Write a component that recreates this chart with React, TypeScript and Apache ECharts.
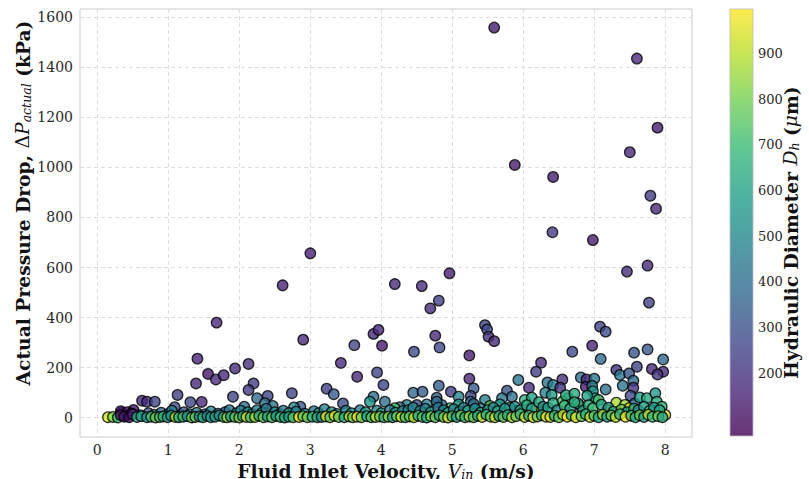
import React, { useEffect, useRef } from "react";
import * as echarts from "echarts";

// Tick values
const velocityTicks = [0, 1, 2, 3, 4, 5, 6, 7, 8];
const pressureTicks = [0, 200, 400, 600, 800, 1000, 1200, 1400, 1600];
const diameterTicks = [200, 300, 400, 500, 600, 700, 800, 900];
const diameterRange = [62, 998];

const viridis = ["#440154", "#482878", "#3e4989", "#31688e", "#26828e", "#1f9e89", "#35b779", "#6ece58", "#b5de2b", "#fde725"];

// [V_in (m/s), ΔP (kPa), D_h (μm)]
const highDropPoints: number[][] = [
  [3.0, 657, 150], [2.61, 529, 160], [1.68, 380, 170], [2.9, 312, 175], [1.41, 236, 160],
  [1.56, 175, 120], [1.67, 153, 180], [1.78, 170, 170], [1.94, 197, 180], [2.13, 215, 190],
  [1.39, 137, 170], [2.2, 137, 230], [2.13, 111, 220], [1.13, 91, 240], [0.63, 68, 170],
  [0.7, 64, 180], [0.81, 64, 250], [1.31, 62, 260], [1.47, 63, 170], [1.91, 84, 260],
  [2.4, 87, 250], [2.74, 98, 260], [2.25, 78, 380], [2.36, 58, 400], [2.47, 47, 420],
  [2.07, 44, 400], [3.23, 116, 240], [3.33, 94, 330], [3.43, 219, 180], [3.62, 290, 250],
  [3.66, 164, 170], [3.89, 335, 180], [3.96, 351, 170], [4.01, 288, 140], [3.94, 181, 260],
  [4.03, 131, 260], [3.89, 84, 400], [3.84, 64, 540], [3.46, 57, 290], [2.86, 44, 320],
  [2.77, 41, 500], [1.09, 42, 290], [0.51, 31, 110], [0.34, 20, 100], [0.4, 7, 90],
  [5.59, 1559, 140], [7.6, 1435, 170], [7.89, 1159, 140], [7.5, 1061, 170], [5.88, 1010, 130],
  [6.42, 962, 140], [7.79, 887, 220], [7.87, 835, 170], [6.41, 741, 230], [6.98, 710, 130],
  [4.96, 577, 150], [4.19, 534, 170], [4.57, 526, 180], [4.81, 468, 240], [4.69, 437, 180],
  [7.75, 608, 170], [7.46, 584, 180], [7.77, 460, 240], [4.76, 328, 170], [4.82, 281, 270],
  [4.46, 264, 280], [5.46, 370, 260], [5.49, 353, 280], [5.51, 324, 200], [5.59, 306, 170],
  [5.24, 249, 140], [5.24, 156, 170], [5.3, 117, 320], [5.26, 87, 260], [5.26, 64, 400],
  [4.45, 100, 370], [4.58, 104, 340], [4.81, 128, 330], [4.78, 80, 340], [4.98, 104, 230],
  [5.09, 84, 480], [6.69, 264, 280], [6.97, 288, 160], [7.08, 364, 260], [7.16, 344, 280],
  [7.09, 235, 380], [6.25, 220, 180], [6.18, 184, 240], [5.93, 151, 420], [6.08, 120, 180],
  [6.55, 153, 190], [6.34, 141, 400], [6.42, 131, 470], [6.52, 120, 200], [6.81, 161, 400],
  [6.89, 153, 170], [7.0, 156, 420], [6.88, 124, 130], [6.97, 127, 440], [6.98, 106, 540],
  [7.01, 78, 580], [7.16, 113, 410], [7.56, 260, 310], [7.75, 273, 330], [7.97, 233, 370],
  [7.6, 204, 250], [7.81, 195, 170], [7.97, 184, 180], [7.89, 173, 210], [7.31, 191, 190],
  [7.36, 171, 420], [7.49, 177, 300], [7.55, 148, 380], [7.4, 128, 420], [7.55, 120, 200],
  [7.51, 88, 280], [7.57, 57, 370], [7.64, 81, 580], [7.74, 78, 620], [7.86, 98, 560],
  [7.88, 64, 650], [7.95, 44, 680], [8.0, 11, 950], [7.31, 60, 880], [7.43, 51, 860],
  [7.49, 38, 920], [7.18, 31, 960], [7.06, 71, 720], [6.8, 47, 880], [6.63, 78, 680],
  [6.55, 64, 740], [6.77, 57, 560], [6.31, 100, 470], [6.4, 91, 560], [6.02, 71, 660],
  [5.93, 28, 780], [6.19, 38, 960], [6.33, 24, 880], [5.77, 108, 300], [5.84, 84, 400],
  [5.7, 78, 420], [5.67, 53, 560], [5.81, 41, 480], [5.46, 71, 470], [5.53, 47, 760],
  [5.39, 38, 450], [5.3, 55, 390], [5.09, 53, 560], [4.97, 38, 740], [4.85, 51, 400],
  [4.78, 64, 380], [4.64, 53, 470], [4.5, 51, 290], [4.36, 51, 480], [4.26, 42, 400],
  [4.19, 38, 720], [4.05, 64, 400], [4.4, 11, 960], [6.12, 80, 600], [6.6, 90, 650],
  [6.72, 96, 620], [6.9, 88, 600],
];

// upper layer of the dense low-pressure band
const upperBand: number[][] = [
  [0.33, 26, 140], [0.42, 22, 120], [0.48, 17, 160], [0.6, 10, 400], [0.72, 18, 330], [0.8, 12, 430],
  [0.9, 20, 360], [1.0, 15, 420], [1.05, 28, 450], [1.18, 10, 380], [1.22, 22, 330], [1.3, 14, 410],
  [1.4, 20, 430], [1.52, 14, 330], [1.6, 25, 480], [1.7, 16, 400], [1.8, 22, 300], [1.86, 30, 420],
  [1.96, 18, 510], [2.02, 28, 480], [2.12, 22, 520], [2.18, 14, 600],
  [2.25, 30, 470], [2.32, 20, 560], [2.38, 36, 420], [2.5, 22, 510], [2.57, 14, 600], [2.62, 28, 450],
  [2.7, 18, 560], [2.8, 24, 500], [2.92, 16, 520], [3.05, 26, 430], [3.12, 18, 550], [3.2, 34, 480],
  [3.3, 22, 560], [3.38, 15, 600], [3.5, 28, 470], [3.58, 18, 540], [3.7, 30, 450], [3.78, 22, 560],
  [3.94, 28, 500], [4.0, 18, 600], [4.12, 30, 450], [4.2, 20, 560], [4.3, 26, 520],
  [4.38, 30, 450], [4.45, 40, 500], [4.55, 28, 520], [4.62, 36, 440], [4.7, 22, 580], [4.8, 40, 420],
  [4.88, 30, 520], [4.94, 20, 620], [5.02, 34, 500], [5.1, 24, 580], [5.16, 40, 460], [5.22, 28, 600],
  [5.32, 36, 520], [5.4, 20, 640], [5.5, 30, 560], [5.58, 40, 480], [5.64, 26, 620], [5.74, 36, 560],
  [5.88, 44, 520], [5.96, 30, 600], [6.05, 50, 640], [6.12, 36, 560], [6.22, 62, 620], [6.28, 44, 520],
  [6.35, 40, 560], [6.42, 58, 640], [6.48, 30, 520], [6.58, 48, 700], [6.66, 36, 600], [6.72, 62, 660],
  [6.84, 28, 560], [6.92, 50, 640], [6.98, 38, 700], [7.1, 52, 620], [7.2, 40, 560], [7.27, 24, 680],
  [7.38, 32, 800], [7.46, 22, 560], [7.56, 36, 640], [7.62, 30, 520], [7.7, 44, 600], [7.78, 28, 700],
  [7.84, 40, 560], [7.92, 30, 620],
];

// base layer of the dense band, close to zero
const baseBand: number[][] = [
  [0.15, 2, 930], [0.22, 3, 820], [0.29, 1, 700], [0.33, 10, 110], [0.38, 4, 120], [0.45, 2, 90],
  [0.5, 14, 150], [0.56, 3, 640], [0.62, 6, 600], [0.7, 2, 520], [0.76, 4, 720], [0.82, 1, 780],
  [0.88, 3, 740], [0.93, 5, 660], [0.99, 2, 600], [1.04, 8, 540], [1.1, 3, 900], [1.15, 2, 640],
  [1.21, 4, 700], [1.27, 6, 560], [1.33, 1, 800], [1.38, 3, 760], [1.44, 5, 520], [1.49, 2, 660],
  [1.55, 7, 500], [1.6, 2, 600], [1.66, 4, 560], [1.72, 9, 520], [1.78, 3, 700], [1.83, 2, 860],
  [1.88, 5, 600], [1.94, 3, 760], [2.0, 1, 800], [2.05, 6, 640], [2.1, 3, 920], [2.16, 2, 720],
  [2.22, 3, 860], [2.28, 8, 660], [2.34, 2, 780], [2.4, 5, 620], [2.46, 2, 760], [2.52, 7, 580],
  [2.58, 3, 700], [2.64, 1, 640], [2.7, 4, 600], [2.76, 2, 740], [2.84, 3, 980], [2.9, 6, 780],
  [2.96, 2, 800], [3.03, 4, 680], [3.1, 2, 620], [3.16, 3, 560], [3.22, 5, 960], [3.28, 2, 760],
  [3.34, 8, 940], [3.4, 3, 780], [3.48, 2, 640], [3.55, 5, 900], [3.6, 2, 800], [3.66, 4, 980],
  [3.72, 2, 780], [3.8, 6, 640], [3.86, 2, 740], [3.92, 3, 900], [3.98, 5, 800], [4.04, 2, 680],
  [4.1, 4, 840], [4.16, 2, 600], [4.22, 6, 780], [4.28, 3, 900], [4.34, 2, 740],
  [4.4, 5, 780], [4.46, 2, 900], [4.52, 8, 680], [4.58, 3, 740], [4.64, 1, 620], [4.7, 6, 820],
  [4.76, 2, 760], [4.82, 9, 640], [4.88, 3, 800], [4.94, 1, 920], [5.0, 6, 720], [5.06, 3, 600],
  [5.12, 9, 780], [5.18, 2, 680], [5.24, 5, 860], [5.3, 2, 740], [5.36, 8, 640], [5.42, 3, 920],
  [5.48, 12, 680], [5.54, 4, 780], [5.6, 2, 900], [5.66, 7, 620], [5.72, 3, 760], [5.78, 10, 660],
  [5.84, 2, 880], [5.9, 6, 780], [5.96, 14, 700], [6.02, 3, 920], [6.08, 8, 660], [6.14, 2, 950],
  [6.2, 5, 780], [6.26, 10, 680], [6.32, 4, 980],
  [6.38, 3, 920], [6.44, 8, 660], [6.5, 2, 780], [6.56, 12, 900], [6.62, 4, 980], [6.68, 10, 640],
  [6.74, 2, 950], [6.82, 6, 780], [6.88, 14, 680], [6.94, 3, 920], [7.0, 8, 740], [7.06, 2, 640],
  [7.12, 12, 840], [7.18, 4, 600], [7.24, 9, 780], [7.3, 3, 900], [7.36, 14, 660], [7.44, 4, 980],
  [7.52, 8, 740], [7.58, 2, 640], [7.64, 10, 780], [7.7, 3, 600], [7.76, 12, 900], [7.82, 4, 680],
  [7.9, 6, 800], [7.96, 2, 620],
];

const SERIF = "'DejaVu Serif', serif";
const TEXT = "#262626";
const TITLE = 18.7;

export default function App() {
  const ref = useRef<HTMLDivElement>(null);
  useEffect(() => {
    if (!ref.current) return;
    const chart = echarts.init(ref.current, undefined, { renderer: "svg" });
    const data = [...highDropPoints, ...upperBand, ...baseBand];
    const titleRich = {
      b: { fontFamily: SERIF, fontWeight: "bold", fontSize: TITLE, color: "#111" },
      n: { fontFamily: SERIF, fontSize: TITLE, color: "#111" },
      i: { fontFamily: SERIF, fontStyle: "italic", fontSize: TITLE, color: "#111" },
      sub: { fontFamily: SERIF, fontStyle: "italic", fontSize: 12.5, color: "#111", padding: [8, 0, 0, 0] },
    };
    const xTitleRich = { ...titleRich, sub: { ...titleRich.sub, padding: [6, 0, 0, 0] } };
    const splitStyle = { show: true, lineStyle: { color: "#dddddd", width: 1, type: [4, 3] as any } };
    const plain = (v: number) => String(v);
    chart.setOption({
      animation: false,
      grid: [
        { left: 80, top: 9, width: 612, height: 428, show: true, borderColor: "#cccccc", borderWidth: 1, backgroundColor: "transparent", outerBoundsMode: "none", containLabel: false },
        { left: 730, top: 9, width: 23, height: 427, show: false, outerBoundsMode: "none", containLabel: false },
      ],
      xAxis: [
        {
          type: "value", gridIndex: 0, min: -0.244, max: 8.376,
          axisLine: { show: false }, axisTick: { show: false, customValues: velocityTicks },
          axisLabel: { customValues: velocityTicks, formatter: plain, fontFamily: SERIF, fontSize: 14, color: TEXT, margin: 6 },
          splitLine: splitStyle,
          name: "{b|Fluid Inlet Velocity, }{i|V}{sub|in}{b| (m/s)}",
          nameLocation: "middle", nameGap: 18,
          nameTextStyle: { rich: xTitleRich },
        },
        { type: "value", gridIndex: 1, show: false, min: 0, max: 1 },
      ],
      yAxis: [
        {
          type: "value", gridIndex: 0, min: -77, max: 1633,
          axisLine: { show: false }, axisTick: { show: false, customValues: pressureTicks },
          axisLabel: { customValues: pressureTicks, formatter: plain, fontFamily: SERIF, fontSize: 14, color: TEXT, margin: 7 },
          splitLine: splitStyle,
          name: "{b|Actual Pressure Drop, }{n|Δ}{i|P}{sub|actual}{b| (kPa)}",
          nameLocation: "middle", nameGap: 47, nameRotate: 90, nameMoveOverlap: false,
          nameTextStyle: { rich: titleRich, padding: [0, 0, 0, 40] },
        },
        {
          type: "value", gridIndex: 1, position: "right", min: diameterRange[0], max: diameterRange[1],
          axisLine: { show: false }, axisTick: { show: false, customValues: diameterTicks },
          splitLine: { show: false },
          axisLabel: { customValues: diameterTicks, formatter: plain, fontFamily: SERIF, fontSize: 13, color: TEXT, margin: 5 },
          name: "{b|Hydraulic Diameter }{i|D}{sub|h}{b| (}{i|μ}{b|m)}",
          nameLocation: "middle", nameGap: 27, nameRotate: 90, nameMoveOverlap: false,
          nameTextStyle: { rich: titleRich, padding: [0, 20, 0, 0] },
        },
      ],
      visualMap: {
        type: "continuous", show: false, seriesIndex: 0, dimension: 2,
        min: diameterRange[0], max: diameterRange[1],
        inRange: { color: viridis },
      },
      graphic: [
        {
          type: "rect", z: 0,
          shape: { x: 730, y: 9, width: 23, height: 427 },
          style: {
            fill: new echarts.graphic.LinearGradient(0, 1, 0, 0, viridis.map((c, i) => ({ offset: i / (viridis.length - 1), color: c }))),
            opacity: 0.8, stroke: "#bbbbbb", lineWidth: 1,
          },
        },
      ],
      series: [
        {
          type: "scatter", xAxisIndex: 0, yAxisIndex: 0,
          symbolSize: 10.5,
          itemStyle: { borderColor: "#000", borderWidth: 1.3, opacity: 0.8 },
          data,
        },
        { type: "scatter", xAxisIndex: 1, yAxisIndex: 1, data: [] },
      ],
    });
    return () => chart.dispose();
  }, []);
  return <div ref={ref} style={{ width: 809, height: 479, position: "absolute", left: 0, top: 0 }} />;
}
